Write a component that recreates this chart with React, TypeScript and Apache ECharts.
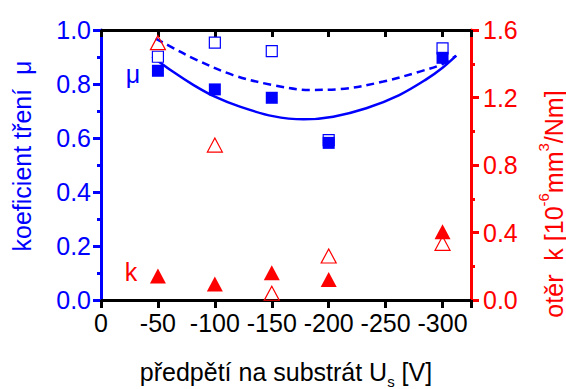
import React, { useEffect, useRef } from "react";
import * as echarts from "echarts";

// bias voltage U_s [V]
const bias = [-50, -100, -150, -200, -300];
// friction coefficient μ
const muFilled = [0.849, 0.78, 0.749, 0.582, 0.897];
const muOpen = [0.901, 0.953, 0.922, 0.592, 0.932];
// wear k [10^-6 mm^3/Nm]
const kFilled = [0.142, 0.095, 0.162, 0.122, 0.405];
const kOpen = [1.525, 0.918, 0.04, 0.261, 0.336];
// fitted curves
const fitSolidX = [-45, -63, -81, -100, -122, -151, -178, -204, -233, -262, -286, -300, -312];
const fitSolidY = [0.901, 0.846, 0.797, 0.753, 0.716, 0.681, 0.669, 0.679, 0.71, 0.759, 0.818, 0.86, 0.905];
const fitDashX = [-48, -65, -81, -116, -151, -183, -210, -248, -280, -300, -312];
const fitDashY = [0.968, 0.93, 0.895, 0.833, 0.796, 0.778, 0.781, 0.809, 0.846, 0.874, 0.905];
const xTicks = [0, -50, -100, -150, -200, -250, -300];

const BLUE = "#0000ff";
const RED = "#ff0000";
const FONT = "'Liberation Sans', Arial, sans-serif";
const FS = 25;

const pts = (xs: number[], ys: number[]) => xs.map((x, i) => [-x, ys[i]]);

export default function App() {
  const ref = useRef<HTMLDivElement>(null);
  useEffect(() => {
    if (!ref.current) return;
    const chart = echarts.init(ref.current, null, { renderer: "svg" });
    const xLabel = (v: number) => {
      const t = xTicks.find((k) => -k === v);
      return t === undefined ? "" : String(t);
    };
    chart.setOption({
      animation: false,
      textStyle: { fontFamily: FONT },
      grid: { left: 101, right: 95, top: 30, bottom: 89, containLabel: false },
      xAxis: [
        {
          type: "value",
          min: 0,
          max: 325,
          interval: 50,
          position: "bottom",
          splitLine: { show: false },
          axisLine: { onZero: false, lineStyle: { color: "#000", width: 3 } },
          axisTick: { inside: false, length: 8, lineStyle: { color: "#000", width: 3 } },
          axisLabel: { formatter: xLabel, color: "#000", fontSize: FS, fontFamily: FONT, margin: 10 },
        },
        {
          type: "value",
          min: 0,
          max: 325,
          interval: 50,
          position: "top",
          splitLine: { show: false },
          axisLine: { onZero: false, lineStyle: { color: "#000", width: 3 } },
          axisTick: { inside: true, length: 7, lineStyle: { color: "#000", width: 3 } },
          axisLabel: { show: false },
        },
      ],
      yAxis: [
        {
          type: "value",
          min: 0,
          max: 1,
          interval: 0.2,
          position: "left",
          splitLine: { show: false },
          axisLine: { show: true, onZero: false, lineStyle: { color: BLUE, width: 3 } },
          axisTick: { show: true, inside: false, length: 8, lineStyle: { color: BLUE, width: 3 } },
          minorTick: { show: true, splitNumber: 2, length: 4, lineStyle: { color: BLUE, width: 3 } },
          axisLabel: { color: BLUE, fontSize: FS, fontFamily: FONT, margin: 10, formatter: (v: number) => v.toFixed(1) },
        },
        {
          type: "value",
          min: 0,
          max: 1.6,
          interval: 0.4,
          position: "right",
          splitLine: { show: false },
          axisLine: { show: true, onZero: false, lineStyle: { color: RED, width: 3 } },
          axisTick: { show: true, inside: false, length: 8, lineStyle: { color: RED, width: 3 } },
          minorTick: { show: true, splitNumber: 2, length: 4, lineStyle: { color: RED, width: 3 } },
          axisLabel: { color: RED, fontSize: FS, fontFamily: FONT, margin: 12, formatter: (v: number) => v.toFixed(1) },
        },
      ],
      series: [
        {
          type: "line",
          data: pts(fitDashX, fitDashY),
          yAxisIndex: 0,
          smooth: 0.35,
          showSymbol: false,
          lineStyle: { color: BLUE, width: 2.5, type: [8, 5] },
          z: 2,
        },
        {
          type: "line",
          data: pts(fitSolidX, fitSolidY),
          yAxisIndex: 0,
          smooth: 0.35,
          showSymbol: false,
          lineStyle: { color: BLUE, width: 2.5 },
          z: 2,
        },
        {
          type: "scatter",
          data: pts(bias, muOpen),
          yAxisIndex: 0,
          symbol: "rect",
          symbolSize: 11,
          itemStyle: { color: "#fff", borderColor: BLUE, borderWidth: 1.2, opacity: 1 },
          z: 3,
        },
        {
          type: "scatter",
          data: pts(bias, muFilled),
          yAxisIndex: 0,
          symbol: "rect",
          symbolSize: 12,
          itemStyle: { color: BLUE, opacity: 1 },
          z: 4,
        },
        {
          type: "scatter",
          data: pts(bias, kOpen),
          yAxisIndex: 1,
          symbol: "triangle",
          symbolSize: [15, 14],
          itemStyle: { color: "rgba(255,255,255,0)", borderColor: RED, borderWidth: 1.2, opacity: 1 },
          z: 3,
        },
        {
          type: "scatter",
          data: pts(bias, kFilled),
          yAxisIndex: 1,
          symbol: "triangle",
          symbolSize: [16, 15],
          itemStyle: { color: RED, opacity: 1 },
          z: 4,
        },
      ],
      graphic: [
        {
          type: "text",
          x: 286,
          y: 372,
          style: {
            text: "předpětí na substrát U{sub|s} [V]",
            fill: "#000",
            font: `${FS}px ${FONT}`,
            align: "center",
            verticalAlign: "middle",
            rich: {
              sub: { fontSize: 15, fontFamily: FONT, fill: "#000", verticalAlign: "bottom", lineHeight: 34 },
            },
          },
        },
        {
          type: "text",
          x: 22,
          y: 156,
          rotation: Math.PI / 2,
          style: {
            text: "koeficient tření  μ",
            fill: BLUE,
            font: `${FS}px ${FONT}`,
            align: "center",
            verticalAlign: "middle",
          },
        },
        {
          type: "text",
          x: 551,
          y: 204,
          rotation: Math.PI / 2,
          style: {
            text: "{n|otěr  k [10}{sup|-6}{n|mm}{sup|3}{n|/Nm]}",
            fill: RED,
            align: "center",
            verticalAlign: "middle",
            rich: {
              n: { fontSize: FS, fontFamily: FONT, fill: RED, lineHeight: 30, verticalAlign: "bottom" },
              sup: { fontSize: 15, fontFamily: FONT, fill: RED, lineHeight: 15, verticalAlign: "top" },
            },
          },
        },
        {
          type: "text",
          x: 133,
          y: 74,
          style: { text: "μ", fill: BLUE, font: `${FS}px ${FONT}`, align: "center", verticalAlign: "middle" },
        },
        {
          type: "text",
          x: 131,
          y: 272,
          style: { text: "k", fill: RED, font: `${FS}px ${FONT}`, align: "center", verticalAlign: "middle" },
        },
      ],
    });
    return () => chart.dispose();
  }, []);
  return <div ref={ref} style={{ width: 566, height: 389, position: "absolute", left: 0, top: 0 }} />;
}
